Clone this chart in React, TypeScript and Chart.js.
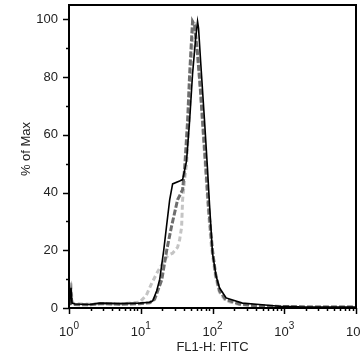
import React, { useEffect, useRef } from 'react';
import { Chart, registerables } from 'chart.js';

Chart.register(...registerables);

// FL1-H intensity (x) and % of Max (y) for the three overlaid histograms
const blackX = [1.016, 1.066, 1.10, 1.21, 1.96, 2.70, 5.11, 9.68, 13.3, 14.7, 16.7, 18.4, 20.9, 22.8, 25.3, 27.8, 34.8, 38.3, 43.5, 48.0, 52.7, 58.0, 61.9, 63.9, 68.1, 77.4, 85.3, 90.8, 100, 112.5, 125, 155, 261, 450, 853, 1616, 9680];
const blackY = [1.0, 7.0, 1.7, 1.4, 1.2, 1.7, 1.5, 1.7, 2.0, 2.5, 6.0, 10.0, 20.0, 28.0, 37.5, 43.0, 44.0, 44.5, 51.0, 65.0, 81.0, 93.0, 99.3, 97.0, 86.0, 65.0, 48.0, 36.0, 19.0, 11.0, 7.0, 3.5, 1.7, 1.2, 0.6, 0.4, 0.3];

const darkX = [1.016, 1.066, 1.10, 1.21, 1.96, 2.70, 5.11, 9.68, 13.3, 15.6, 19.6, 23.0, 26.7, 32.6, 38.3, 40.8, 45.0, 48.0, 52.7, 56.2, 61.9, 68.1, 72.6, 80.0, 88.0, 100, 110, 125, 152, 237, 450, 1616, 9680];
const darkY = [1.0, 5.0, 1.5, 1.2, 1.1, 1.5, 1.3, 1.5, 1.8, 3.0, 9.7, 20.0, 28.0, 37.5, 41.0, 48.0, 65.0, 81.0, 99.3, 98.0, 88.0, 75.0, 65.0, 50.0, 35.0, 20.0, 12.0, 6.0, 3.0, 1.4, 0.7, 0.4, 0.3];

const lightX = [1.016, 1.066, 1.10, 1.21, 1.96, 2.70, 5.11, 9.68, 12.0, 14.2, 16.7, 19.6, 23.0, 25.3, 27.8, 32.6, 34.8, 37.1, 38.3, 40.8, 43.5, 48.0, 52.7, 56.2, 61.9, 68.1, 72.6, 80.0, 88.0, 96.8, 110, 125, 152, 237, 450, 1616, 9680];
const lightY = [1.5, 9.0, 2.0, 1.5, 1.3, 1.6, 1.4, 2.0, 4.5, 8.5, 12.0, 15.0, 17.7, 18.5, 19.0, 21.0, 23.6, 28.0, 37.5, 44.4, 50.0, 69.0, 92.0, 99.0, 88.0, 75.0, 64.0, 48.0, 33.0, 21.0, 11.0, 5.5, 2.5, 1.2, 0.6, 0.4, 0.3];

const xDecades = [1, 10, 100, 1000, 10000];
const xExponents = ['0', '1', '2', '3', '4'];
const yTicks = [0, 20, 40, 60, 80, 100];
const xTitle = 'FL1-H: FITC';
const yTitle = '% of Max';

const FONT = '"Liberation Sans", Arial, sans-serif';
const TEXT = '#222';

export default function App() {
  const ref = useRef<HTMLCanvasElement>(null);

  useEffect(() => {
    if (!ref.current) return;
    const pts = (xs: number[], ys: number[]) => xs.map((x, i) => ({ x, y: ys[i] }));

    const framePlugin = {
      id: 'frame',
      afterDraw(chart: any) {
        const { ctx, chartArea: a, scales } = chart;
        const xs = scales.x;
        const ys = scales.y;
        ctx.save();
        ctx.strokeStyle = '#000';
        ctx.lineWidth = 2;
        ctx.strokeRect(a.left, a.top, a.right - a.left, a.bottom - a.top);

        // x tick marks (log minor + major)
        ctx.lineWidth = 1.5;
        for (let d = 0; d < xDecades.length; d++) {
          const base = xDecades[d];
          const maxM = d === xDecades.length - 1 ? 1 : 9;
          for (let m = 1; m <= maxM; m++) {
            const px = Math.round(xs.getPixelForValue(base * m)) + 0.5;
            const len = m === 1 ? 6 : 3;
            ctx.beginPath();
            ctx.moveTo(px, a.bottom);
            ctx.lineTo(px, a.bottom + len);
            ctx.stroke();
          }
        }
        // y tick marks every 10 (major at labelled ticks)
        for (let v = 0; v <= 100; v += 10) {
          const py = Math.round(ys.getPixelForValue(v)) + 0.5;
          const len = yTicks.includes(v) ? 6 : 3;
          ctx.beginPath();
          ctx.moveTo(a.left, py);
          ctx.lineTo(a.left - len, py);
          ctx.stroke();
        }

        // x labels 10^n
        ctx.fillStyle = TEXT;
        ctx.textBaseline = 'alphabetic';
        ctx.textAlign = 'left';
        for (let d = 0; d < xDecades.length; d++) {
          const px = xs.getPixelForValue(xDecades[d]);
          ctx.font = `13px ${FONT}`;
          const w1 = ctx.measureText('10').width;
          ctx.font = `10px ${FONT}`;
          const w2 = ctx.measureText(xExponents[d]).width;
          const start = px - (w1 + w2) / 2;
          ctx.font = `13px ${FONT}`;
          ctx.fillText('10', start, 336);
          ctx.font = `10px ${FONT}`;
          ctx.fillText(xExponents[d], start + w1, 329);
        }

        // titles
        ctx.font = `13px ${FONT}`;
        ctx.textAlign = 'center';
        ctx.fillText(xTitle, (a.left + a.right) / 2, 351);
        ctx.translate(30, 149);
        ctx.rotate(-Math.PI / 2);
        ctx.textBaseline = 'alphabetic';
        ctx.fillText(yTitle, 0, 0);
        ctx.restore();
      },
    };

    const chart = new Chart(ref.current, {
      type: 'line',
      data: {
        datasets: [
          {
            data: pts(blackX, blackY),
            borderColor: '#000',
            borderWidth: 1.6,
            pointRadius: 0,
            tension: 0,
            fill: false,
          },
          {
            data: pts(darkX, darkY),
            borderColor: '#6e6e6e',
            borderWidth: 3,
            borderDash: [6, 2],
            pointRadius: 0,
            tension: 0,
            fill: false,
          },
          {
            data: pts(lightX, lightY),
            borderColor: '#c4c4c4',
            borderWidth: 3,
            borderDash: [5, 3],
            pointRadius: 0,
            tension: 0,
            fill: false,
          },
        ],
      },
      options: {
        animation: false,
        responsive: false,
        devicePixelRatio: 1,
        layout: { padding: { top: 5, right: 4, left: 0, bottom: 0 } },
        plugins: { legend: { display: false }, tooltip: { enabled: false } },
        scales: {
          x: {
            type: 'logarithmic',
            min: 1,
            max: 10000,
            grid: { display: false },
            border: { display: false },
            ticks: { display: false },
            afterFit: (s: any) => {
              s.height = 47;
              s.paddingLeft = 0;
              s.paddingRight = 0;
            },
          },
          y: {
            type: 'linear',
            min: 0,
            max: 105,
            grid: { display: false, drawTicks: true, tickLength: 6 },
            border: { display: false },
            ticks: {
              padding: 5,
              color: TEXT,
              font: { family: FONT, size: 13 },
            },
            afterBuildTicks: (s: any) => {
              s.ticks = yTicks.map((v) => ({ value: v }));
            },
            afterFit: (s: any) => {
              s.width = 69;
              s.paddingTop = 0;
              s.paddingBottom = 0;
            },
          },
        },
      },
      plugins: [framePlugin],
    });
    return () => chart.destroy();
  }, []);

  return (
    <div style={{ position: 'fixed', left: 0, top: 0, width: 360, height: 355, background: '#fff' }}>
      <canvas ref={ref} width={360} height={355} style={{ display: 'block', width: 360, height: 355 }} />
    </div>
  );
}
